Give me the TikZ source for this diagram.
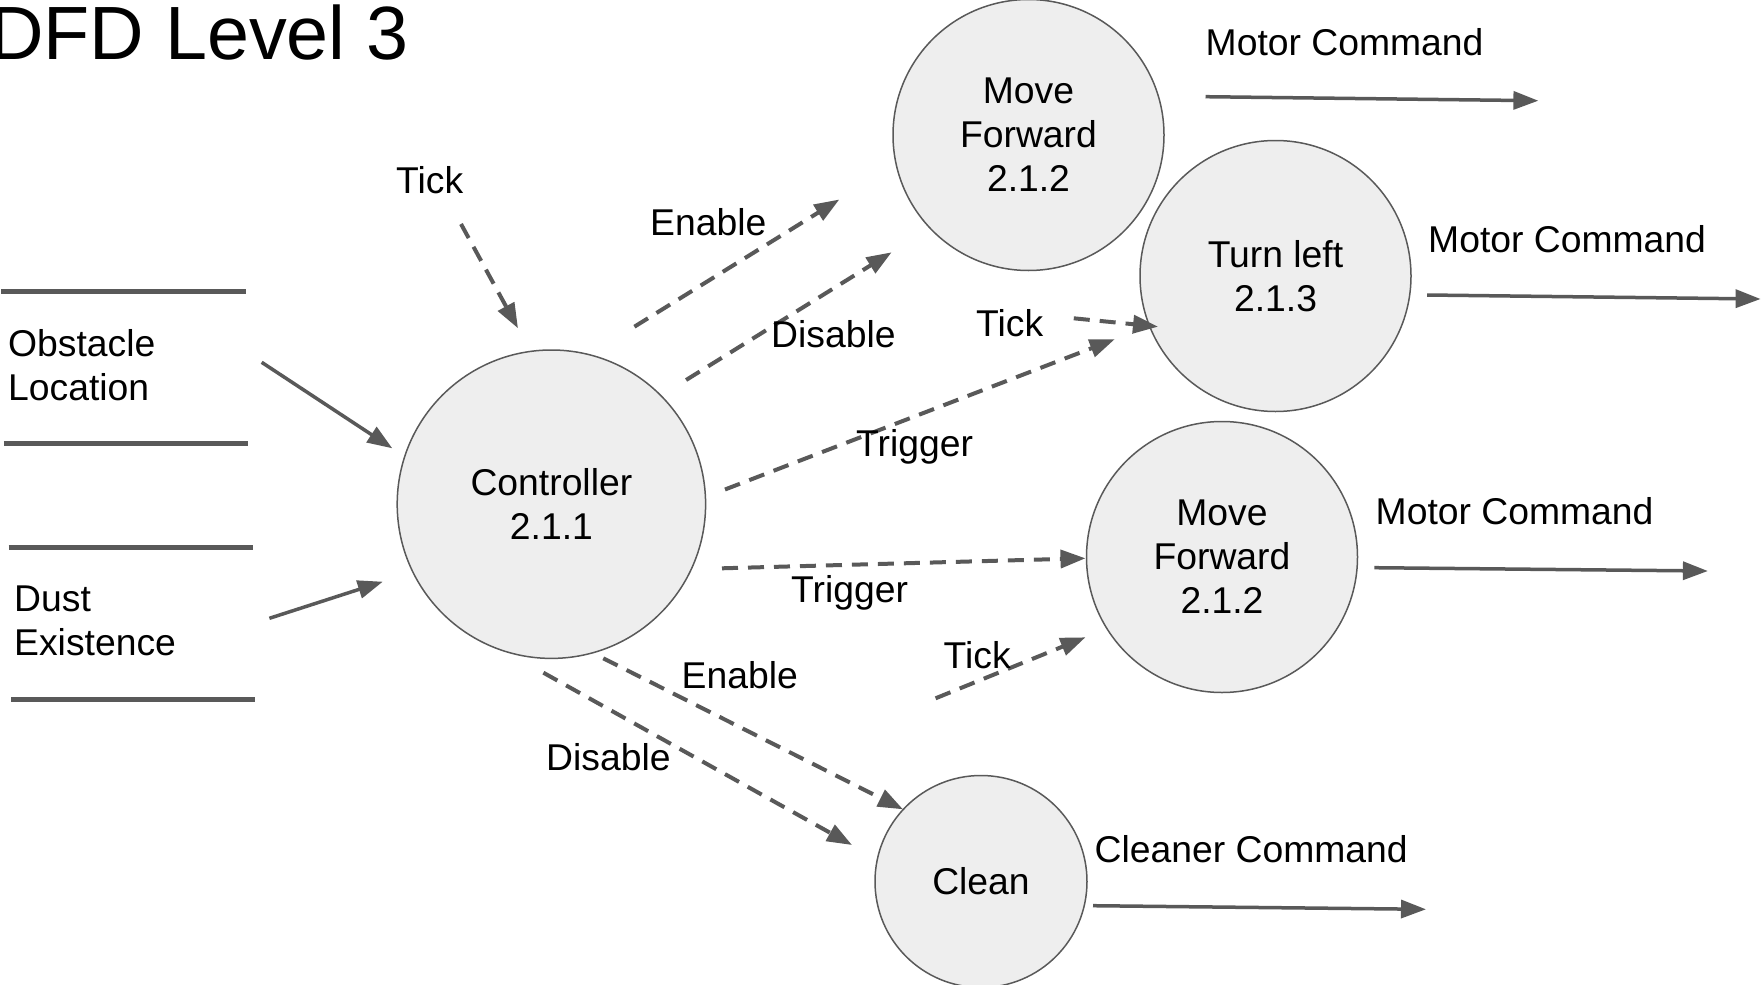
\documentclass[tikz,border=0pt]{standalone}
\usepackage{fontspec}
\setmainfont{Liberation Sans}
\usetikzlibrary{arrows.meta}
\definecolor{lc}{HTML}{595959}
\definecolor{cf}{HTML}{EEEEEE}
\newcommand\lblfont{\fontsize{37.3}{44}\selectfont}
\newcommand\ttlfont{\fontsize{75.5}{90}\selectfont}
\begin{document}
\begin{tikzpicture}[x=1pt,y=-1pt,
  proc/.style={circle, draw=lc, line width=1.5pt, fill=cf, minimum size=#1, inner sep=0pt, align=center, font=\lblfont},
  lab/.style={anchor=base west, inner sep=0pt, font=\lblfont},
  flow/.style={draw=lc, line width=3.5pt, -{Triangle[length=25pt,width=18pt]}},
  dflow/.style={flow, line width=4pt, dash pattern=on 16pt off 10pt},
  store/.style={draw=lc, line width=5.5pt}]
\useasboundingbox (0,0) rectangle (1762,985);

% title
\node[anchor=base west, inner sep=0pt, font=\ttlfont] (title) at (-11,59) {DFD Level 3};

% processes
\node[proc=308.4pt] (ctrl) at (551.4,504.2) {Controller\\2.1.1};
\node[proc=271pt] (mf1) at (1028.5,135) {Move\\Forward\\2.1.2};
\node[proc=271pt] (tl) at (1275.5,276) {Turn left\\2.1.3};
\node[proc=271pt] (mf2) at (1222,557) {Move\\Forward\\2.1.2};
\node[proc=212pt] (clean) at (981,881.5) {Clean};

% data stores
\coordinate (s1a) at (1.4,291.7);  \coordinate (s1b) at (245.5,291.7);
\coordinate (s2a) at (3.8,443.7);  \coordinate (s2b) at (247.8,443.7);
\coordinate (s3a) at (8.6,547.3);  \coordinate (s3b) at (252.6,547.3);
\coordinate (s4a) at (11,699.3);   \coordinate (s4b) at (255,699.3);
\draw[store] (s1a) -- (s1b);
\draw[store] (s2a) -- (s2b);
\draw[store] (s3a) -- (s3b);
\draw[store] (s4a) -- (s4b);
\node[anchor=west, inner sep=0pt, align=left, font=\lblfont] (obst) at (8,365.3) {Obstacle\\Location};
\node[anchor=west, inner sep=0pt, align=left, font=\lblfont] (dust) at (14,621.2) {Dust\\Existence};

% inputs to controller
\coordinate (o1) at (261.7,362.3); \coordinate (o2) at (392.3,448.3);
\coordinate (d1) at (269.4,618.3); \coordinate (d2) at (382.8,581.7);
\draw[flow] (o1) -- (o2);
\draw[flow] (d1) -- (d2);

% tick to controller
\coordinate (t1a) at (461,224); \coordinate (t1b) at (518,328.3);
\draw[dflow] (t1a) -- (t1b);
\node[lab] (tick1) at (396,193.3) {Tick};

% enable / disable to move forward
\coordinate (e1a) at (634.4,326.7); \coordinate (e1b) at (839.3,199.5);
\draw[dflow] (e1a) -- (e1b);
\node[lab] (enable1) at (650,235) {Enable};
\coordinate (x1a) at (686.1,380); \coordinate (x1b) at (891.6,252.3);
\draw[dflow] (x1a) -- (x1b);
\node[lab] (disable1) at (771,347.7) {Disable};

% tick & trigger to turn left
\coordinate (t2a) at (1073.8,318.3); \coordinate (t2b) at (1158,326.7);
\draw[dflow] (t2a) -- (t2b);
\node[lab] (tick2) at (976,336.7) {Tick};
\coordinate (g1a) at (725,489.5); \coordinate (g1b) at (1114.7,339.3);
\draw[dflow] (g1a) -- (g1b);
\node[lab] (trigger1) at (856,456) {Trigger};

% trigger & tick to move forward 2
\coordinate (g2a) at (722,568.3); \coordinate (g2b) at (1085.5,558.3);
\draw[dflow] (g2a) -- (g2b);
\node[lab] (trigger2) at (791,602) {Trigger};
\coordinate (t3a) at (935.6,698.3); \coordinate (t3b) at (1085.5,637.3);
\draw[dflow] (t3a) -- (t3b);
\node[lab] (tick3) at (943.5,668.3) {Tick};

% enable / disable to clean
\coordinate (e2a) at (603.3,658.3); \coordinate (e2b) at (903,809.3);
\draw[dflow] (e2a) -- (e2b);
\node[lab] (enable2) at (681.5,688.3) {Enable};
\coordinate (x2a) at (543.4,672.7); \coordinate (x2b) at (852,845);
\draw[dflow] (x2a) -- (x2b);
\node[lab] (disable2) at (546,770) {Disable};

% outputs
\coordinate (m1a) at (1205.5,96.7); \coordinate (m1b) at (1538.4,100.7);
\draw[flow] (m1a) -- (m1b);
\node[lab] (mc1) at (1205.5,55) {Motor Command};
\coordinate (m2a) at (1427.1,295); \coordinate (m2b) at (1760.6,299);
\draw[flow] (m2a) -- (m2b);
\node[lab] (mc2) at (1428,252.7) {Motor Command};
\coordinate (m3a) at (1374.4,567.7); \coordinate (m3b) at (1707.9,571);
\draw[flow] (m3a) -- (m3b);
\node[lab] (mc3) at (1375.5,524) {Motor Command};
\coordinate (c1a) at (1093,905.7); \coordinate (c1b) at (1426,909.3);
\draw[flow] (c1a) -- (c1b);
\node[lab] (cc) at (1094.5,862.7) {Cleaner Command};
\end{tikzpicture}
\end{document}
